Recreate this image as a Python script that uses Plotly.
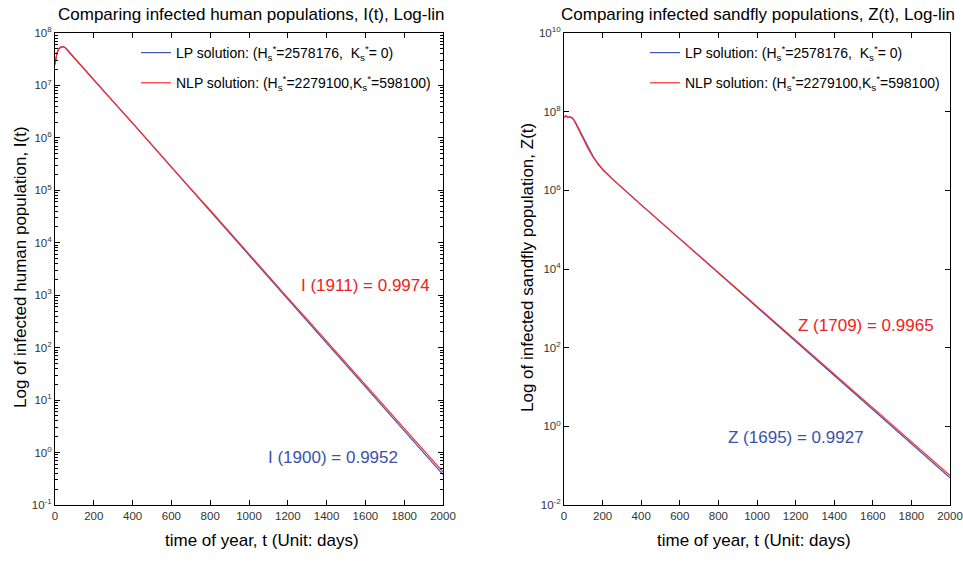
import plotly.graph_objects as go

# Infected humans I(t)
t_I = [0, 10, 20, 30, 40, 50, 60, 80, 100, 200, 300, 400, 500, 600, 700, 800, 900,
       1000, 1100, 1200, 1300, 1400, 1500, 1600, 1700, 1800, 1900, 2000]
I_LP = [2.51e7, 4.17e7, 5.01e7, 5.37e7, 5.50e7, 5.37e7, 4.90e7, 4.03e7, 3.31e7, 1.29e7,
        4.90e6, 1.91e6, 7.24e5, 2.82e5, 1.06e5, 4.07e4, 1.53e4, 5.75e3, 2.21e3, 841,
        324, 122, 47.1, 17.8, 6.85, 2.59, 0.9952, 0.380]
I_NLP = [2.51e7, 4.17e7, 5.01e7, 5.37e7, 5.50e7, 5.37e7, 4.90e7, 4.03e7, 3.31e7, 1.29e7,
         4.90e6, 1.91e6, 7.24e5, 2.82e5, 1.07e5, 4.17e4, 1.58e4, 6.03e3, 2.34e3, 891,
         347, 132, 51.3, 19.5, 7.59, 2.88, 1.11, 0.427]

# Infected sandflies Z(t)
t_Z = [0, 10, 20, 30, 40, 50, 60, 80, 100, 125, 150, 175, 200, 250, 300, 350, 400, 500,
       600, 700, 800, 900, 1000, 1100, 1200, 1300, 1400, 1500, 1600, 1700, 1800, 1900, 2000]
Z_LP = [7.24e7, 7.76e7, 7.24e7, 7.24e7, 6.92e7, 6.31e7, 5.25e7, 3.39e7, 2.14e7, 1.23e7,
        7.41e6, 4.68e6, 3.39e6, 1.95e6, 1.16e6, 7.00e5, 4.27e5, 1.58e5, 5.89e4, 2.16e4,
        7.94e3, 2.92e3, 1.07e3, 394, 145, 53.1, 19.5, 7.16, 2.63, 0.955, 0.355, 0.132, 0.049]
Z_NLP = [7.24e7, 7.94e7, 7.08e7, 7.41e7, 7.24e7, 6.31e7, 5.01e7, 3.16e7, 1.95e7, 1.15e7,
         7.08e6, 4.79e6, 3.39e6, 1.95e6, 1.16e6, 7.00e5, 4.27e5, 1.58e5, 5.89e4, 2.19e4,
         8.13e3, 3.02e3, 1.12e3, 417, 155, 57.5, 21.4, 7.94, 2.95, 1.10, 0.407, 0.151, 0.0562]

x_ticks = [0, 200, 400, 600, 800, 1000, 1200, 1400, 1600, 1800, 2000]
I_ticks = [0.1, 1, 10, 100, 1e3, 1e4, 1e5, 1e6, 1e7, 1e8]
I_tick_text = ["10<sup>-1</sup>", "10<sup>0</sup>", "10<sup>1</sup>", "10<sup>2</sup>",
               "10<sup>3</sup>", "10<sup>4</sup>", "10<sup>5</sup>", "10<sup>6</sup>",
               "10<sup>7</sup>", "10<sup>8</sup>"]
Z_ticks = [0.01, 1, 100, 1e4, 1e6, 1e8, 1e10]
Z_tick_text = ["10<sup>-2</sup>", "10<sup>0</sup>", "10<sup>2</sup>", "10<sup>4</sup>",
               "10<sup>6</sup>", "10<sup>8</sup>", "10<sup>10</sup>"]

LP_NAME = "LP solution: (H<sub>s</sub><sup>*</sup>=2578176,  K<sub>s</sub><sup>*</sup>= 0)"
NLP_NAME = "NLP solution: (H<sub>s</sub><sup>*</sup>=2279100,K<sub>s</sub><sup>*</sup>=598100)"

BLUE = "#4053b6"
RED = "#ff2a2a"
FONT = "Liberation Sans, Arial, sans-serif"

fig = go.Figure()
fig.add_trace(go.Scatter(x=t_I, y=I_LP, mode="lines", name=LP_NAME, line=dict(color=BLUE, width=1.2),
                         xaxis="x", yaxis="y", legend="legend", legendgroup="a"))
fig.add_trace(go.Scatter(x=t_I, y=I_NLP, mode="lines", name=NLP_NAME, line=dict(color=RED, width=1.2),
                         xaxis="x", yaxis="y", legend="legend", legendgroup="b"))
fig.add_trace(go.Scatter(x=t_Z, y=Z_LP, mode="lines", name=LP_NAME, line=dict(color=BLUE, width=1.2),
                         xaxis="x2", yaxis="y2", legend="legend2", legendgroup="c"))
fig.add_trace(go.Scatter(x=t_Z, y=Z_NLP, mode="lines", name=NLP_NAME, line=dict(color=RED, width=1.2),
                         xaxis="x2", yaxis="y2", legend="legend2", legendgroup="d"))

axis_common = dict(showline=True, linecolor="black", linewidth=1, mirror="ticks",
                   ticks="inside", ticklen=5, tickcolor="black", showgrid=False, zeroline=False,
                   automargin=False, ticklabeloverflow="allow",
                   tickfont=dict(family=FONT, size=11.5, color="#333333"))

xd1 = [55 / 963, 443 / 963]
xd2 = [564 / 963, 950 / 963]
yd = [1 - 505 / 562, 1 - 33 / 562]

fig.update_layout(
    width=963, height=562,
    margin=dict(l=0, r=0, t=0, b=0, autoexpand=False),
    paper_bgcolor="white", plot_bgcolor="white",
    font=dict(family=FONT, color="black"),
    showlegend=True,
    xaxis=dict(domain=xd1, range=[0, 2000], tickvals=x_ticks, anchor="y", **axis_common),
    yaxis=dict(domain=yd, type="log", range=[-1, 8], tickvals=I_ticks, ticktext=I_tick_text,
               anchor="x", minor=dict(ticks="inside", ticklen=3, tickcolor="black", dtick="D1"),
               **axis_common),
    xaxis2=dict(domain=xd2, range=[0, 2000], tickvals=x_ticks, anchor="y2", **axis_common),
    yaxis2=dict(domain=yd, type="log", range=[-2, 10], tickvals=Z_ticks, ticktext=Z_tick_text,
                anchor="x2", **axis_common),
    legend=dict(x=136 / 963, y=1 - 37 / 562, xanchor="left", yanchor="top", bgcolor="rgba(0,0,0,0)",
                font=dict(family=FONT, size=14), tracegroupgap=9, itemwidth=30),
    legend2=dict(x=645 / 963, y=1 - 37 / 562, xanchor="left", yanchor="top", bgcolor="rgba(0,0,0,0)",
                 font=dict(family=FONT, size=14), tracegroupgap=9, itemwidth=30),
)

paper_text = dict(xref="paper", yref="paper", showarrow=False, xanchor="center", yanchor="middle")
ann = [
    dict(text="Comparing infected human populations, I(t), Log-lin", x=251 / 963, y=1 - 15 / 562,
         font=dict(size=17), **paper_text),
    dict(text="Comparing infected sandfly populations, Z(t), Log-lin", x=758 / 963, y=1 - 15 / 562,
         font=dict(size=17), **paper_text),
    dict(text="time of year, t (Unit: days)", x=262 / 963, y=1 - 540 / 562,
         font=dict(size=17), **paper_text),
    dict(text="time of year, t (Unit: days)", x=754 / 963, y=1 - 540 / 562,
         font=dict(size=17), **paper_text),
    dict(text="Log of infected human population, I(t)", x=20 / 963, y=1 - 267 / 562, textangle=-90,
         font=dict(size=17), **paper_text),
    dict(text="Log of infected sandfly population, Z(t)", x=527 / 963, y=1 - 268 / 562, textangle=-90,
         font=dict(size=17), **paper_text),
    dict(text="I (1911) = 0.9974", x=1598, y=3.19, xref="x", yref="y", showarrow=False,
         font=dict(size=17, color="#ee2222")),
    dict(text="I (1900) = 0.9952", x=1433, y=-0.09, xref="x", yref="y", showarrow=False,
         font=dict(size=17, color="#3a52aa")),
    dict(text="Z (1709) = 0.9965", x=1565, y=2.57, xref="x2", yref="y2", showarrow=False,
         font=dict(size=17, color="#ee2222")),
    dict(text="Z (1695) = 0.9927", x=1202, y=-0.28, xref="x2", yref="y2", showarrow=False,
         font=dict(size=17, color="#3a52aa")),
]
fig.update_layout(annotations=ann)

fig.write_html("out.html")
